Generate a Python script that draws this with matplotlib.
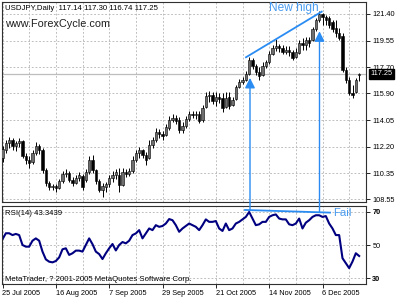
import matplotlib
matplotlib.use("Agg")
import matplotlib.pyplot as plt
import matplotlib.transforms as mtransforms
from matplotlib.patches import ConnectionPatch

plt.rcParams["font.family"] = ["Liberation Sans", "DejaVu Sans"]

# USDJPY daily, 25 Jul 2005 .. 20 Dec 2005 (108 bars)
opens = [111.42, 111.97, 112.46, 112.66, 112.25, 112.46, 112.60, 111.56, 111.28, 111.14,
         111.76, 112.25, 111.97, 110.59, 109.68, 109.41, 109.48, 109.34, 109.82, 110.31,
         110.38, 109.89, 109.68, 110.03, 110.17, 109.89, 110.45, 111.28, 110.59, 109.82,
         109.20, 109.41, 109.61, 110.03, 110.24, 110.24, 109.55, 110.45, 110.31, 110.52,
         111.28, 111.76, 111.97, 111.63, 111.42, 112.32, 112.66, 113.22, 113.08, 113.01,
         113.50, 114.05, 114.19, 114.05, 113.36, 113.64, 114.12, 114.47, 114.40, 114.47,
         114.05, 114.95, 115.71, 115.78, 115.37, 115.65, 115.58, 114.95, 115.65, 115.09,
         115.51, 116.34, 116.69, 116.82, 117.24, 118.21, 117.79, 117.38, 117.17, 117.79,
         118.07, 118.63, 119.04, 119.18, 119.04, 118.77, 118.90, 118.77, 118.42, 118.70,
         119.39, 119.25, 119.60, 119.60, 120.36, 120.98, 121.40, 121.19, 121.12, 120.85,
         120.43, 120.08, 119.87, 117.52, 116.82, 115.92, 115.99, 117.14]
highs = [112.25, 112.66, 112.87, 112.80, 112.60, 112.80, 112.66, 111.76, 111.56, 111.97,
         112.53, 112.39, 112.11, 110.72, 109.82, 109.61, 109.61, 109.96, 110.52, 110.65,
         110.52, 110.10, 110.24, 110.45, 110.31, 110.65, 111.56, 111.63, 110.65, 109.96,
         109.68, 109.75, 110.24, 110.52, 110.65, 110.72, 110.72, 110.65, 110.72, 111.56,
         111.97, 112.18, 112.04, 111.83, 112.66, 112.87, 113.50, 113.43, 113.29, 113.77,
         114.33, 114.47, 114.40, 114.26, 113.91, 114.33, 114.68, 114.68, 114.68, 114.68,
         115.09, 115.99, 116.06, 115.99, 115.99, 115.92, 115.92, 115.99, 115.99, 115.65,
         116.48, 116.89, 117.03, 117.45, 118.42, 118.35, 117.93, 117.73, 118.07, 118.21,
         118.83, 119.25, 119.67, 119.32, 119.25, 119.18, 119.18, 118.90, 119.04, 119.60,
         119.74, 119.81, 119.81, 120.50, 121.12, 121.61, 121.47, 121.33, 121.26, 120.98,
         120.98, 120.43, 120.08, 117.73, 117.03, 116.48, 116.96, 117.30]
lows = [111.14, 111.76, 112.11, 111.97, 111.90, 112.18, 111.42, 111.00, 110.72, 111.00,
        111.63, 111.70, 110.38, 109.48, 109.20, 109.20, 109.06, 109.27, 109.68, 110.10,
        109.75, 109.48, 109.61, 109.82, 109.20, 109.75, 110.31, 110.38, 109.61, 109.06,
        108.71, 109.06, 109.41, 109.75, 109.96, 109.06, 109.48, 110.10, 110.17, 110.38,
        111.14, 111.42, 111.42, 110.93, 111.35, 112.11, 112.53, 112.80, 112.66, 112.94,
        113.36, 113.91, 113.77, 113.15, 113.15, 113.50, 113.98, 114.19, 114.12, 113.84,
        113.91, 114.88, 115.30, 115.16, 115.02, 115.23, 114.60, 114.88, 114.81, 115.02,
        115.44, 116.27, 116.55, 116.76, 117.17, 117.59, 117.17, 116.82, 117.10, 117.66,
        117.93, 118.56, 118.83, 118.77, 118.63, 118.63, 118.49, 118.21, 118.35, 118.63,
        118.90, 118.90, 119.11, 119.53, 120.22, 120.85, 120.64, 120.64, 120.43, 120.15,
        119.81, 119.60, 117.38, 116.62, 115.78, 115.58, 115.92, 116.74]
closes = [112.04, 112.46, 112.66, 112.25, 112.46, 112.60, 111.56, 111.28, 111.07, 111.76,
          112.25, 111.97, 110.59, 109.68, 109.41, 109.48, 109.34, 109.82, 110.31, 110.38,
          109.89, 109.68, 110.03, 110.24, 109.41, 110.45, 111.28, 110.59, 109.82, 109.20,
          109.48, 109.61, 110.03, 110.24, 110.45, 109.55, 110.45, 110.31, 110.52, 111.28,
          111.76, 111.97, 111.63, 111.28, 112.32, 112.66, 113.22, 113.08, 112.94, 113.57,
          114.05, 114.19, 113.98, 113.36, 113.64, 114.12, 114.47, 114.40, 114.47, 113.98,
          114.88, 115.71, 115.78, 115.37, 115.65, 115.51, 114.88, 115.58, 115.02, 115.44,
          116.34, 116.69, 116.82, 117.24, 118.21, 117.79, 117.38, 117.10, 117.79, 118.07,
          118.63, 119.04, 119.18, 119.04, 118.77, 118.90, 118.77, 118.35, 118.77, 119.39,
          119.25, 119.60, 119.39, 120.36, 120.98, 121.40, 121.19, 120.98, 120.64, 120.36,
          120.08, 119.74, 117.52, 116.82, 115.92, 115.78, 116.82, 117.25]
rsi = [53.5, 57.1, 57.1, 56.0, 56.7, 56.0, 50.0, 49.0, 49.0, 52.6,
       54.0, 52.6, 46.0, 41.3, 39.9, 39.5, 40.3, 42.5, 47.4, 48.0,
       44.0, 45.0, 46.6, 46.6, 46.0, 50.0, 54.0, 50.5, 46.0, 44.5,
       41.5, 45.0, 48.0, 50.6, 46.7, 50.0, 51.8, 51.0, 52.6, 56.0,
       57.0, 59.0, 54.0, 57.0, 60.0, 59.0, 62.0, 61.0, 61.5, 63.0,
       65.7, 65.0, 62.0, 58.0, 60.0, 61.5, 63.0, 62.0, 61.0, 59.0,
       62.0, 65.5, 64.0, 64.0, 64.5, 60.0, 58.5, 63.0, 59.0, 60.0,
       63.0, 64.0, 65.5, 67.0, 70.0, 66.0, 62.0, 62.5, 64.0, 64.0,
       67.0, 68.0, 68.5, 66.0, 65.5, 65.5, 62.5, 62.0, 63.0, 66.0,
       60.0, 63.5, 65.0, 67.0, 68.0, 68.0, 67.0, 67.5, 63.0, 60.0,
       56.0, 56.0, 42.0, 39.0, 36.0, 40.0, 45.0, 43.3439]

date_bars = [0, 16, 32, 48, 64, 80, 96]
date_labels = ["25 Jul 2005", "16 Aug 2005", "7 Sep 2005", "29 Sep 2005",
               "21 Oct 2005", "14 Nov 2005", "6 Dec 2005"]
price_ticks = [121.40, 119.55, 117.70, 115.90, 114.05, 112.20, 110.35, 108.55]
rsi_levels = [30, 50, 70]
last_price = 117.25
header = "USDJPY,Daily  117.14 117.30 116.74 117.25"

# divergence annotations (bar index, value)
high_bars = [74, 95]
fail_line = [(72.75, 71.2), (98.25, 69.6)]

BLUE = "#2a8cf2"
GRID = "#b4b4b4"
FS = 5.3

fig = plt.figure(figsize=(4, 3), dpi=100)
ax = fig.add_axes([2 / 400, 98 / 300, 364 / 400, 200 / 300])
axr = fig.add_axes([2 / 400, 16 / 300, 364 / 400, 78 / 300])

xs = list(range(len(closes)))
xlim = (-0.15, 109.05)

# candles
ax.vlines(xs, lows, highs, color="black", lw=0.7, zorder=3)
for i in xs:
    o, c = opens[i], closes[i]
    up = c >= o
    ax.bar(i, max(abs(c - o), 0.03), bottom=min(o, c), width=0.72,
           color="#6e6e6e" if up else "black", edgecolor="black", lw=0.4, zorder=4)

ax.axhline(last_price, color="#bdbdbd", lw=0.9, zorder=1)
ax.set_xlim(*xlim)
ax.set_ylim(108.37, 122.23)
ax.set_xticks(range(0, 109, 8))
ax.tick_params(axis="x", length=0, labelbottom=False)
ax.yaxis.tick_right()
ax.set_yticks(price_ticks)
ax.set_yticklabels([f"{v:.2f}" for v in price_ticks])
ax.tick_params(axis="y", length=3, width=0.6, pad=1.5, labelsize=FS)
ax.grid(True, ls=(0, (2.2, 2.2)), color=GRID, lw=0.6, zorder=0)

tr = mtransforms.blended_transform_factory(ax.transAxes, ax.transData)
ax.text(1.012, last_price, f"{last_price:.2f}", transform=tr, color="white",
        fontsize=FS, va="center", ha="left",
        bbox=dict(facecolor="black", edgecolor="black", pad=0.9))

ax.text(0.008, 0.965, header, transform=ax.transAxes, fontsize=5.6, va="center")
ax.text(0.008, 0.89, "www.ForexCycle.com", transform=ax.transAxes, fontsize=7.8,
        va="center", color="#202020")

# new-high trend line
ax.plot([high_bars[0] - 0.95, high_bars[1] + 0.75],
        [highs[high_bars[0]] - 0.02, highs[high_bars[1]] - 0.05],
        color=BLUE, lw=1.3, zorder=5)
ax.text(87.5, 121.79, "New high", color="#4a9cf0", fontsize=8.6,
        ha="center", va="center")

# RSI panel
axr.plot(xs, rsi, color="#000080", lw=1.5)
axr.set_xlim(*xlim)
axr.set_ylim(26.4, 73.6)
axr.set_xticks(date_bars)
axr.set_xticklabels(date_labels, ha="left")
axr.set_xticks(range(8, 109, 16), minor=True)
axr.tick_params(axis="x", which="major", length=3, width=0.6, pad=1.5, labelsize=FS)
axr.tick_params(axis="x", which="minor", length=0)
axr.yaxis.tick_right()
axr.set_yticks(rsi_levels)
axr.set_yticklabels([str(v) for v in rsi_levels])
axr.tick_params(axis="y", length=3, width=0.6, pad=1.5, labelsize=FS)
for lab in axr.get_yticklabels():
    if lab.get_text() != "50":
        lab.set_fontweight("bold")
axr.grid(True, which="both", ls=(0, (2.2, 2.2)), color=GRID, lw=0.6)

axr.text(0.008, 0.91, f"RSI(14) {rsi[-1]:.4f}", transform=axr.transAxes,
         fontsize=5.6, va="center")
axr.text(0.008, 0.064, "MetaTrader, ? 2001-2005 MetaQuotes Software Corp.",
         transform=axr.transAxes, fontsize=5.6, va="center")

(fx0, fy0), (fx1, fy1) = fail_line
axr.plot([fx0, fx1], [fy0, fy1], color=BLUE, lw=1.3, zorder=5)
axr.text(fx1 + 0.9, fy1, "Fail", color="#4a9cf0", fontsize=8.2, va="center")

# arrows from RSI fail line up to the price highs
for b, off in zip(high_bars, [0.2, 0.65]):
    bx = b + 0.25 if b == high_bars[0] else b + 0.1
    ry = fy0 + (fy1 - fy0) * (bx - fx0) / (fx1 - fx0)
    cp = ConnectionPatch(xyA=(bx, ry), coordsA=axr.transData,
                         xyB=(bx, lows[b] - off), coordsB=ax.transData,
                         arrowstyle="-|>,head_length=0.6,head_width=0.3",
                         mutation_scale=10, color=BLUE, lw=1.0,
                         shrinkA=0, shrinkB=0, zorder=6)
    fig.add_artist(cp)

for a in (ax, axr):
    for s in a.spines.values():
        s.set_color("#303030")
        s.set_linewidth(0.8)

fig.savefig("out.png", dpi=100, facecolor="white")
